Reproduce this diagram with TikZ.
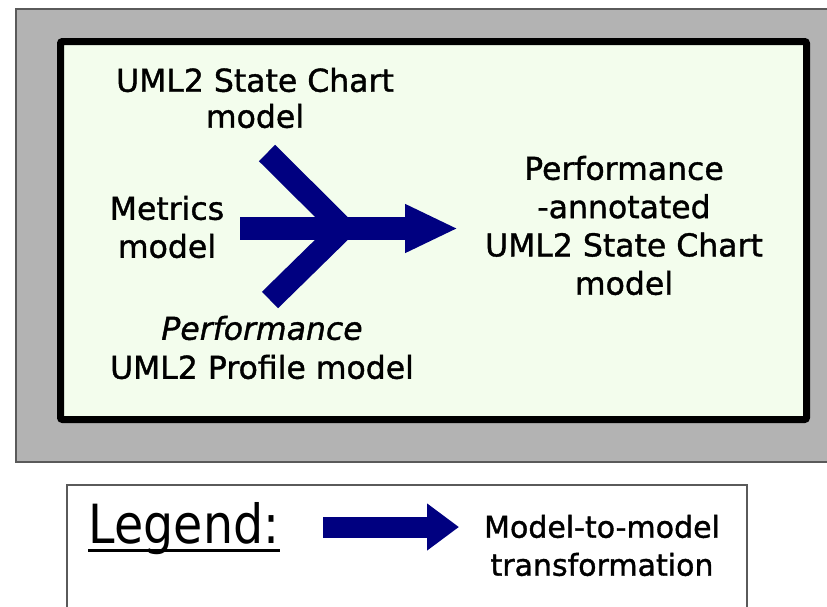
\documentclass[tikz,border=0pt]{standalone}
\usepackage{fontspec}
\setmainfont{DejaVu Sans}
\newfontfamily\heavyfont{DejaVu Sans}[FakeBold=1.2]
\usepackage{graphicx}
\usetikzlibrary{arrows.meta}
\definecolor{framegray}{RGB}{179,179,179}
\definecolor{framedark}{RGB}{90,90,90}
\definecolor{panelfill}{RGB}{243,253,237}
\definecolor{arrownavy}{RGB}{0,0,128}
\begin{document}
\begin{tikzpicture}[x=1pt,y=-1pt,
  txt/.style={align=center, inner sep=0pt, text=black},
  bar/.style={draw=arrownavy, line width=23pt, line cap=butt},
  legbar/.style={draw=arrownavy, line width=21pt, line cap=butt}]
\clip (0,0) rectangle (827,606);
\fill[white] (0,0) rectangle (827,606);
% outer gray frame
\draw[fill=framegray, draw=framedark, line width=1.5pt] (16,9) rectangle (840,462);
% inner panel
\draw[fill=panelfill, draw=black, line width=7pt, rounded corners=2pt] (60.5,41.5) rectangle (806.5,419.5);
% legend box
\draw[fill=white, draw=framedark, line width=1.5pt] (67,485) rectangle (747,640);

% texts
\node[txt, font=\heavyfont\fontsize{31.5}{36}\selectfont] (sc) at (255,98) {UML2 State Chart\\model};
\node[txt, font=\heavyfont\fontsize{31.5}{38}\selectfont] (met) at (167,227) {Metrics\\model};
\node[txt, font=\heavyfont\fontsize{31.5}{39}\selectfont] (prof) at (262,347.5) {\itshape Performance\\UML2 Profile model};
\node[txt, font=\heavyfont\fontsize{31.5}{38.3}\selectfont] (out) at (624,225.5) {Performance\\-annotated\\UML2 State Chart\\model};

% transformation arrow
\coordinate (a1) at (267,153);
\coordinate (a2) at (270,300);
\coordinate (a0) at (240,228.5);
\coordinate (j) at (343,228.5);
\coordinate (tip) at (458,228.5);
\draw[bar] (a1) -- (j);
\draw[bar] (a2) -- (j);
\draw[bar, -{Triangle[length=53pt,width=45pt]}] (a0) -- (tip);

% legend
\node[txt, font=\fontsize{54}{60}\selectfont, anchor=base] (leg) at (184,543) {\scalebox{0.88}[1]{Legend:}};
\draw[line width=3pt] (88,550) -- (280,550);
\coordinate (l0) at (323,527);
\coordinate (l1) at (459,527);
\draw[legbar, -{Triangle[length=32pt,width=45pt]}] (l0) -- (l1);
\node[txt, font=\heavyfont\fontsize{30}{38}\selectfont] (mm) at (602,545.5) {Model-to-model\\transformation};
\end{tikzpicture}
\end{document}
